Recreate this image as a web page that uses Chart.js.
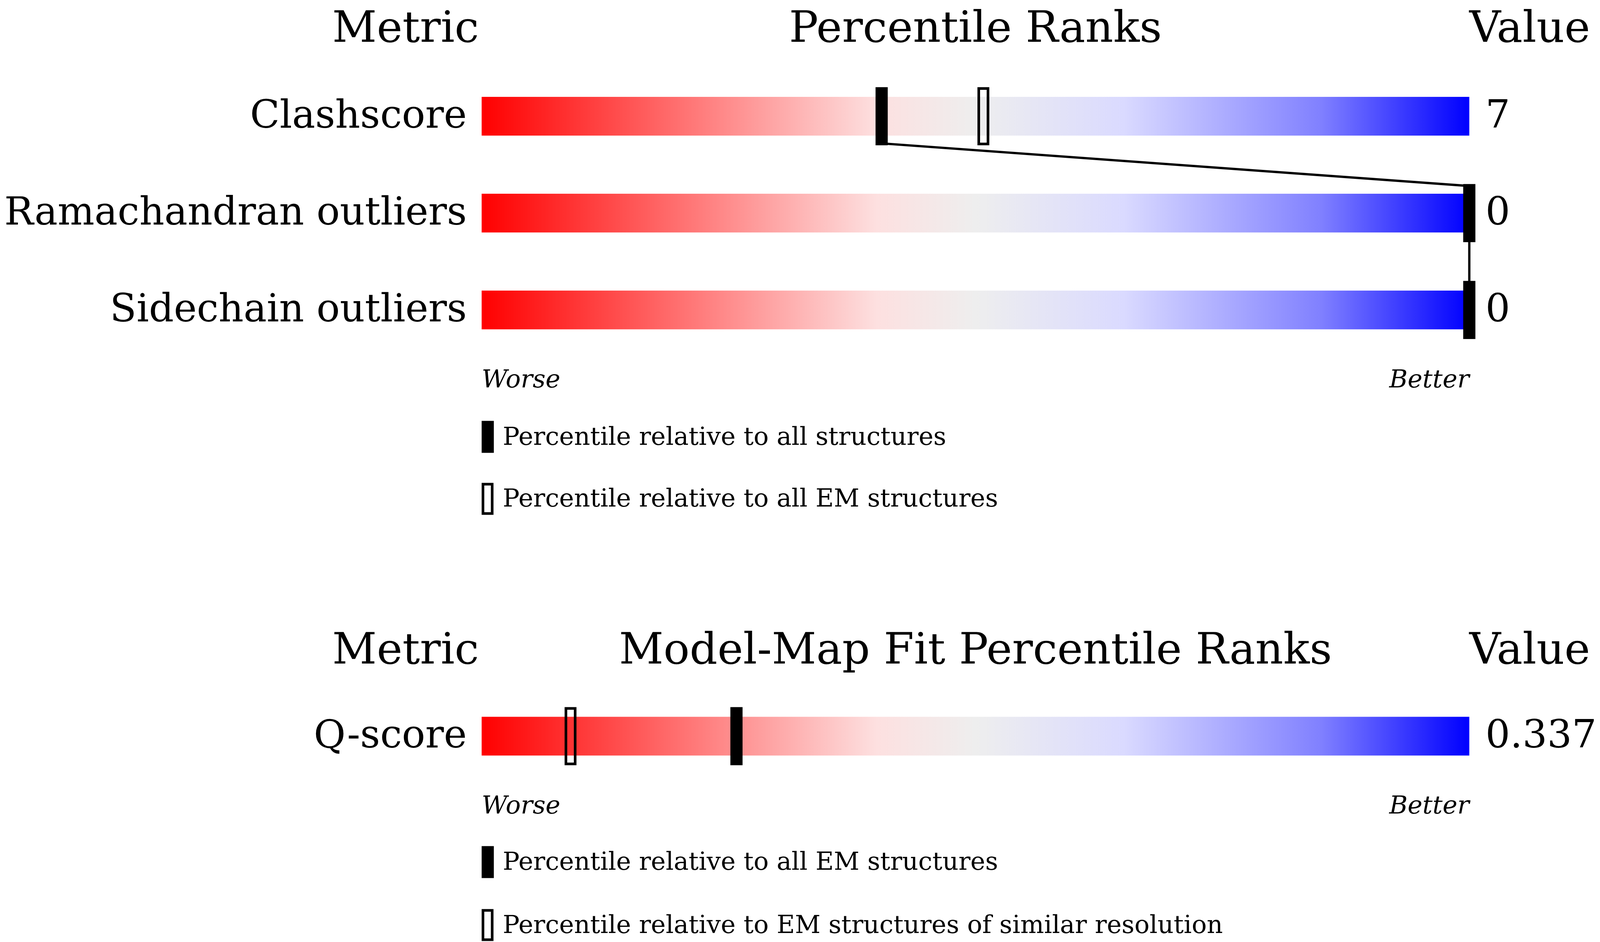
<!DOCTYPE html>
<html><head><meta charset="utf-8">
<script src="https://cdn.jsdelivr.net/npm/chart.js@4"></script>
<style>html,body{margin:0;padding:0;background:#fff;overflow:hidden}canvas{display:block}</style>
</head><body>
<canvas id="c"></canvas>
<script>
const metrics = ["Clashscore", "Ramachandran outliers", "Sidechain outliers"];
const metricValues = ["7", "0", "0"];
const pctAll = [40.5, 100, 100];
const pctEM = [50.8, null, null];
const fitMetrics = ["Q-score"];
const fitValues = ["0.337"];
const fitPctEM = [25.8];
const fitPctSimilar = [9.0];
const rowsY = [0, 1, 2];
const fitRowsY = [6.4];
const legend1 = ["Percentile relative to all structures", "Percentile relative to all EM structures"];
const legend2 = ["Percentile relative to all EM structures", "Percentile relative to EM structures of similar resolution"];

const SERIF = '"DejaVu Serif", serif';
const W = window.innerWidth || 4860, H = window.innerHeight || 2412;
const S = W / 4860;
const cv = document.getElementById('c');
cv.width = W; cv.height = H; cv.style.width = W + 'px'; cv.style.height = H + 'px';

const drawPlugin = {
  id: 'draw',
  afterDatasetsDraw(chart) {
    const ctx = chart.ctx, xs = chart.scales.x, ys = chart.scales.y;
    const X = v => xs.getPixelForValue(v), Y = v => ys.getPixelForValue(v);
    const x0 = X(0), x1 = X(100);
    const unit = Y(1) - Y(0);
    function bar(y) {
      const g = ctx.createLinearGradient(x0, 0, x1, 0);
      g.addColorStop(0, '#ff0000');
      g.addColorStop(0.2, '#ff7070');
      g.addColorStop(0.4, '#fde0e0');
      g.addColorStop(0.5, '#eeeeee');
      g.addColorStop(0.65, '#dadaff');
      g.addColorStop(0.85, '#8080ff');
      g.addColorStop(1, '#0000ff');
      ctx.fillStyle = g;
      ctx.fillRect(x0, Y(y) - 0.2 * unit, x1 - x0, 0.4 * unit);
    }
    const mw = 37 * S;
    function filled(p, y, h) {
      ctx.fillStyle = '#000';
      let cx = Math.min(Math.max(X(p), x0 + mw / 2), x1 + 4 * S);
      ctx.fillRect(cx - mw / 2, Y(y) - h * unit, mw, 2 * h * unit);
      return cx;
    }
    function open(p, y, h) {
      ctx.strokeStyle = '#000'; ctx.lineWidth = 8 * S;
      let cx = Math.min(Math.max(X(p), x0 + mw / 2), x1);
      ctx.strokeRect(cx - 14 * S, Y(y) - h * unit + 4 * S, 28 * S, 2 * h * unit - 8 * S);
    }
    function text(t, x, y, size, align, style) {
      ctx.fillStyle = '#000';
      ctx.font = (style || '') + ' ' + (size * S) + 'px ' + SERIF;
      ctx.textAlign = align; ctx.textBaseline = 'alphabetic';
      ctx.fillText(t, x, Y(y));
    }
    function rowText(t, x, y, size, align) {
      ctx.fillStyle = '#000';
      ctx.font = (size * S) + 'px ' + SERIF;
      ctx.textAlign = align; ctx.textBaseline = 'middle';
      ctx.fillText(t, x, Y(y) + 4 * S);
    }
    const labX = 1418 * S, valX = 4512 * S, legX = 1527 * S, metX = 1232 * S;
    text('Metric', metX, -0.77, 132, 'center');
    text('Percentile Ranks', X(50), -0.77, 132, 'center');
    text('Value', x1, -0.77, 132, 'left');
    metrics.forEach((m, i) => { bar(rowsY[i]); rowText(m, labX, rowsY[i], 118, 'right'); rowText(metricValues[i], valX, rowsY[i], 118, 'left'); });
    const pts = [];
    metrics.forEach((m, i) => {
      if (pctEM[i] != null) open(pctEM[i], rowsY[i], 0.3);
      pts.push([filled(pctAll[i], rowsY[i], 0.3), rowsY[i]]);
    });
    ctx.strokeStyle = '#000'; ctx.lineWidth = 7 * S; ctx.beginPath();
    for (let i = 0; i < pts.length - 1; i++) {
      ctx.moveTo(pts[i][0], Y(pts[i][1] + 0.28));
      ctx.lineTo(pts[i + 1][0], Y(pts[i + 1][1] - 0.28));
    }
    ctx.stroke();
    text('Worse', x0, 2.8, 76, 'left', 'italic');
    text('Better', x1, 2.8, 76, 'right', 'italic');
    ctx.fillStyle = '#000'; ctx.fillRect(x0, Y(3.31) - 0.165 * unit, mw, 0.33 * unit);
    ctx.lineWidth = 8 * S; ctx.strokeRect(x0 + 4 * S, Y(3.95) - 0.165 * unit + 4 * S, 28 * S, 0.33 * unit - 8 * S);
    rowText(legend1[0], legX, 3.31, 76, 'left');
    rowText(legend1[1], legX, 3.95, 76, 'left');
    text('Metric', metX, 5.65, 132, 'center');
    text('Model-Map Fit Percentile Ranks', X(50), 5.65, 132, 'center');
    text('Value', x1, 5.65, 132, 'left');
    fitMetrics.forEach((m, i) => {
      bar(fitRowsY[i]); rowText(m, labX, fitRowsY[i], 118, 'right'); rowText(fitValues[i], valX, fitRowsY[i], 118, 'left');
      open(fitPctSimilar[i], fitRowsY[i], 0.3);
      filled(fitPctEM[i], fitRowsY[i], 0.3);
    });
    text('Worse', x0, 7.2, 76, 'left', 'italic');
    text('Better', x1, 7.2, 76, 'right', 'italic');
    ctx.fillStyle = '#000'; ctx.fillRect(x0, Y(7.7) - 0.165 * unit, mw, 0.33 * unit);
    ctx.lineWidth = 8 * S; ctx.strokeRect(x0 + 4 * S, Y(8.35) - 0.165 * unit + 4 * S, 28 * S, 0.33 * unit - 8 * S);
    rowText(legend2[0], legX, 7.7, 76, 'left');
    rowText(legend2[1], legX, 8.35, 76, 'left');
  }
};

new Chart(cv, {
  type: 'scatter',
  data: { datasets: [{ data: [], pointRadius: 0 }] },
  options: {
    responsive: false, animation: false, devicePixelRatio: 1,
    layout: { padding: { left: 1463 * S, right: 397 * S, top: 0, bottom: 0 } },
    plugins: { legend: { display: false }, tooltip: { enabled: false } },
    scales: {
      x: { type: 'linear', min: 0, max: 100, display: false },
      y: { type: 'linear', min: -1.2, max: 8.525, reverse: true, display: false }
    }
  },
  plugins: [drawPlugin]
});
</script>
</body></html>
